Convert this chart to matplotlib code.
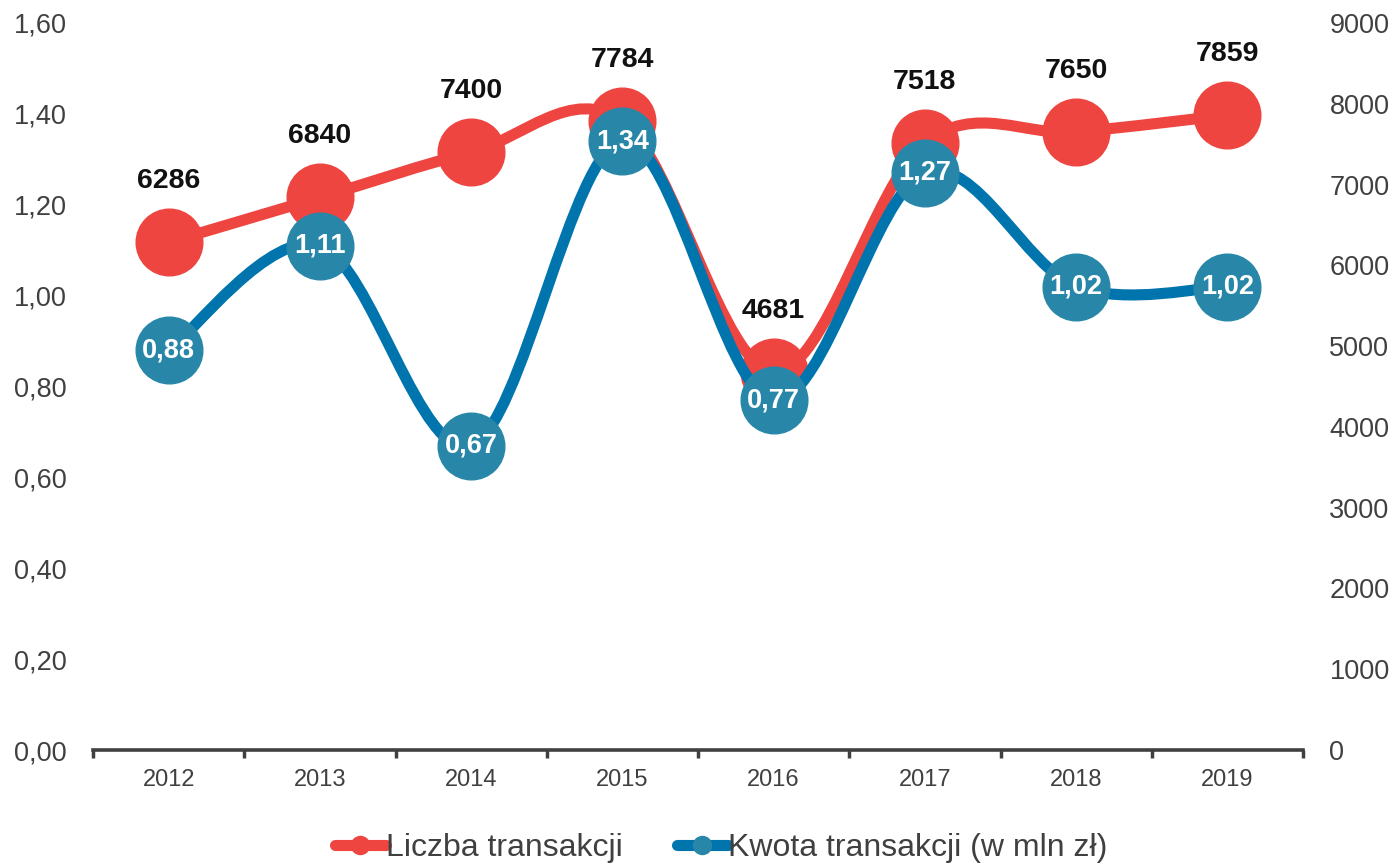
import matplotlib
matplotlib.use('Agg')
import matplotlib.pyplot as plt
import numpy as np
from matplotlib.path import Path
from matplotlib.patches import PathPatch
from matplotlib.lines import Line2D

plt.rcParams['font.family'] = ['Liberation Sans', 'DejaVu Sans']

YEARS = ['2012', '2013', '2014', '2015', '2016', '2017', '2018', '2019']
LICZBA = [6286, 6840, 7400, 7784, 4681, 7518, 7650, 7859]
KWOTA = [0.88, 1.11, 0.67, 1.34, 0.77, 1.27, 1.02, 1.02]
LEFT_TICKS = [0.0, 0.2, 0.4, 0.6, 0.8, 1.0, 1.2, 1.4, 1.6]
RIGHT_TICKS = [0, 1000, 2000, 3000, 4000, 5000, 6000, 7000, 8000, 9000]

RED = '#EE4540'
BLUE_LINE = '#0074AD'
BLUE_MARK = '#2887A8'
TXT = '#404040'


def smooth_path(xs, ys):
    # Catmull-Rom style bezier, like spreadsheet "smoothed line"
    pts = np.column_stack([xs, ys]).astype(float)
    n = len(pts)
    verts = [pts[0]]
    codes = [Path.MOVETO]
    for i in range(n - 1):
        p0 = pts[max(i - 1, 0)]
        p1 = pts[i]
        p2 = pts[i + 1]
        p3 = pts[min(i + 2, n - 1)]
        c1 = p1 + (p2 - p0) / 6.0
        c2 = p2 - (p3 - p1) / 6.0
        verts += [c1, c2, p2]
        codes += [Path.CURVE4] * 3
    return Path(verts, codes)


fig = plt.figure(figsize=(13.96, 8.66), dpi=100)
ax = fig.add_axes([93 / 1396, 116 / 866, 1210 / 1396, 727 / 866])
ax2 = ax.twinx()
ax.set_zorder(ax2.get_zorder() + 1)
ax.patch.set_visible(False)

x = np.arange(len(YEARS))

# red series on the right axis
ax2.add_patch(PathPatch(smooth_path(x, LICZBA), facecolor='none', edgecolor=RED,
                        lw=8, capstyle='round', joinstyle='round', zorder=2))
ax2.plot(x, LICZBA, linestyle='none', marker='o', markersize=48,
         markerfacecolor=RED, markeredgecolor=RED, zorder=3)
for xi, v in zip(x, LICZBA):
    ax2.annotate(str(v), xy=(xi, v), xytext=(0, 44), textcoords='offset points',
                 ha='center', va='center', fontsize=20.5, fontweight='bold',
                 color='#111111', zorder=4)

# blue series on the left axis
ax.add_patch(PathPatch(smooth_path(x, KWOTA), facecolor='none', edgecolor=BLUE_LINE,
                       lw=8, capstyle='round', joinstyle='round', zorder=2))
ax.plot(x, KWOTA, linestyle='none', marker='o', markersize=48,
        markerfacecolor=BLUE_MARK, markeredgecolor=BLUE_MARK, zorder=3)
for xi, v in zip(x, KWOTA):
    ax.text(xi, v, f'{v:.2f}'.replace('.', ','), ha='center', va='center',
            fontsize=19.5, fontweight='bold', color='white', zorder=4)

ax.set_xlim(-0.5, len(YEARS) - 0.5)
ax.set_ylim(0, 1.6)
ax2.set_ylim(0, 9000)

ax.set_yticks(LEFT_TICKS)
ax.set_yticklabels([f'{v:.2f}'.replace('.', ',') for v in LEFT_TICKS])
ax2.set_yticks(RIGHT_TICKS)
ax2.set_yticklabels([str(v) for v in RIGHT_TICKS])
ax.tick_params(axis='y', length=0, pad=19, labelsize=19.5, labelcolor=TXT)
ax2.tick_params(axis='y', length=0, pad=19, labelsize=19.5, labelcolor=TXT)

ax.set_xticks(x)
ax.set_xticklabels(YEARS)
ax.set_xticks(np.arange(-0.5, len(YEARS)), minor=True)
ax.tick_params(axis='x', which='major', length=0, pad=14, labelsize=17, labelcolor=TXT)
ax.tick_params(axis='x', which='minor', length=6, width=2.5, color='#404040')

for a in (ax, ax2):
    for s in ('top', 'left', 'right', 'bottom'):
        a.spines[s].set_visible(False)
ax.spines['bottom'].set_visible(True)
ax.spines['bottom'].set_color('#404040')
ax.spines['bottom'].set_linewidth(2.6)

handles = [
    Line2D([], [], color=RED, lw=8, marker='o', markersize=13, solid_capstyle='round',
           markerfacecolor=RED, markeredgecolor=RED),
    Line2D([], [], color=BLUE_LINE, lw=8, marker='o', markersize=13, solid_capstyle='round',
           markerfacecolor=BLUE_MARK, markeredgecolor=BLUE_MARK),
]
fig.legend(handles, ['Liczba transakcji', 'Kwota transakcji (w mln zł)'],
           loc='center', bbox_to_anchor=(721 / 1396, 18 / 866), ncol=2,
           frameon=False, fontsize=23, handlelength=1.6, handletextpad=0.0,
           columnspacing=1.7, labelcolor=TXT, borderpad=0, borderaxespad=0)

fig.savefig('out.png', dpi=100)
